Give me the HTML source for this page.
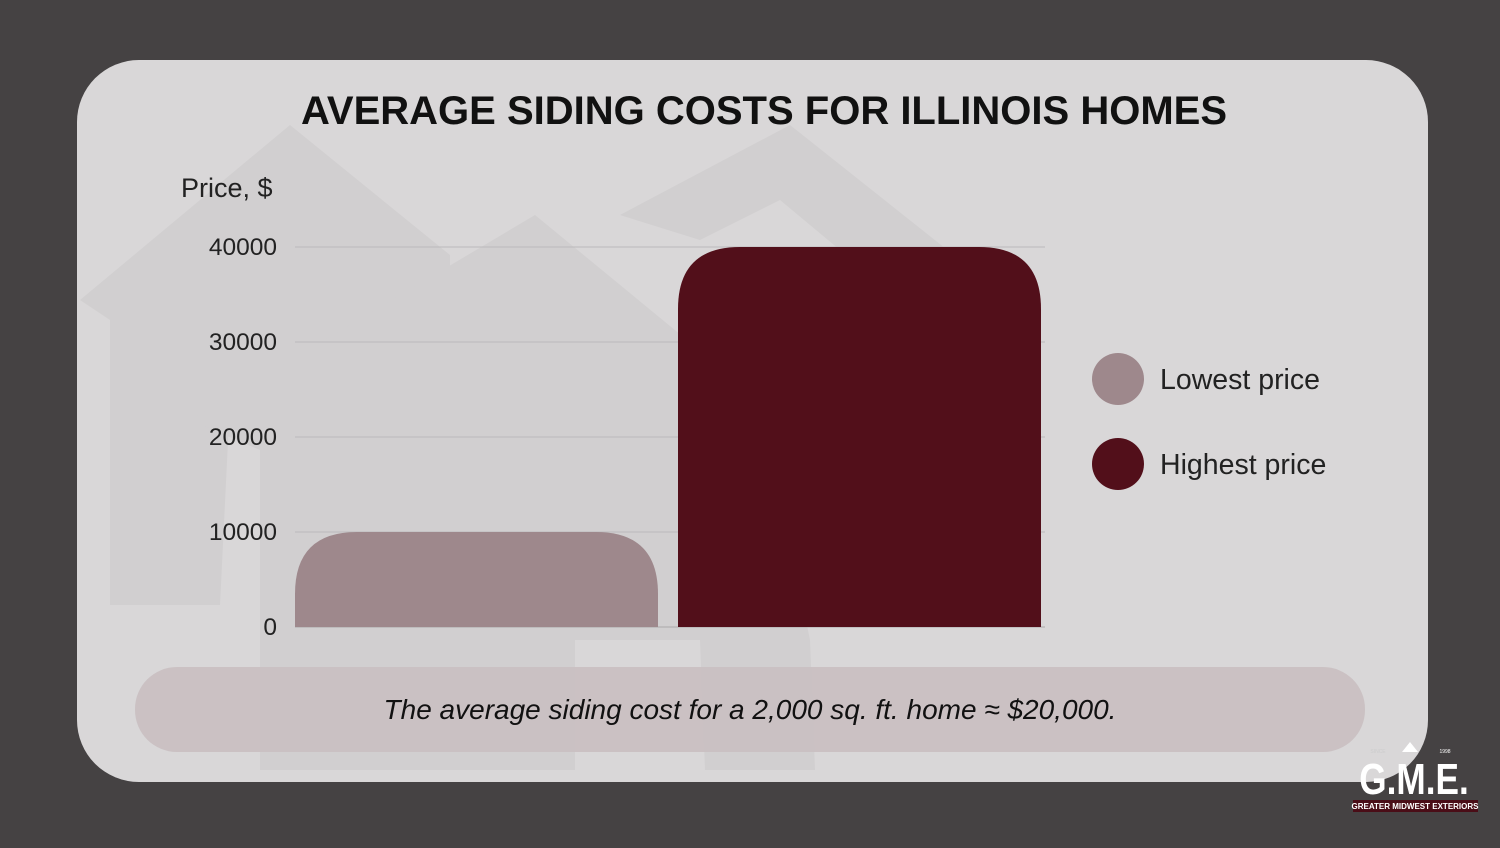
<!DOCTYPE html>
<html><head><meta charset="utf-8"><style>
body{margin:0;width:1500px;height:843px;background:#454243;overflow:hidden;font-family:"Liberation Sans",sans-serif}
</style></head><body>
<svg width="1500" height="843" viewBox="0 0 1500 843">
<rect x="77" y="60" width="1351" height="722" rx="62" fill="#d9d7d8"/>
<g fill="#d1cfd0">
<polygon points="80,300 290,125 450,255 450,400 230,400 220,605 110,605 110,320"/>
<polygon points="620,215 790,125 960,260 900,300 780,200 700,240"/>
<polygon points="190,420 535,215 760,400 810,640 815,770 705,770 700,640 575,640 575,770 260,770 260,450"/>
</g>
<text x="764" y="124" text-anchor="middle" font-size="40" font-weight="bold" fill="#111">AVERAGE SIDING COSTS FOR ILLINOIS HOMES</text>
<text x="181" y="197" font-size="27" fill="#222">Price, $</text>
<g id="grid"></g><g id="bars"></g>
<g>
<circle cx="1118" cy="379" r="26" fill="#9e888c"/>
<text x="1160" y="389" font-size="28.5" fill="#222">Lowest price</text>
<circle cx="1118" cy="464" r="26" fill="#520f1a"/>
<text x="1160" y="474" font-size="28.5" fill="#222">Highest price</text>
</g>
<rect x="135" y="667" width="1230" height="85" rx="42" fill="#c9bfc1" opacity="0.9"/>
<text x="750" y="719" text-anchor="middle" font-size="28" font-style="italic" fill="#111">The average siding cost for a 2,000 sq. ft. home ≈ $20,000.</text>
<g>
<text x="1414" y="794" text-anchor="middle" font-size="44" font-weight="bold" fill="#fff" transform="translate(1414,0) scale(0.8,1) translate(-1414,0)">G.M.E.</text>
<rect x="1353" y="800" width="125" height="12" fill="#4a0d17"/>
<text x="1415" y="809" text-anchor="middle" font-size="8" font-weight="bold" fill="#fff">GREATER MIDWEST EXTERIORS</text>
<text x="1378" y="753" text-anchor="middle" font-size="5" fill="#ccc">SINCE</text>
<text x="1445" y="753" text-anchor="middle" font-size="5" fill="#fff">1998</text>
<polygon points="1402,752 1410,742 1418,752" fill="#fff"/>
</g>
</svg>
<script>
const categories=["Lowest price","Highest price"];
const values=[10000,40000];
const colors=["#9e888c","#520f1a"];
const ticks=[0,10000,20000,30000,40000];
const NS="http://www.w3.org/2000/svg";
const y=v=>627-v/40000*380;
const x=i=>295+i*383;
const bw=363;
const grid=document.getElementById('grid');
ticks.forEach(t=>{
 const l=document.createElementNS(NS,'line');
 l.setAttribute('x1',295);l.setAttribute('x2',1045);l.setAttribute('y1',y(t));l.setAttribute('y2',y(t));
 l.setAttribute('stroke',t===0?'#aaa':'#bcbabb');l.setAttribute('stroke-width',1);
 
 
 grid.appendChild(l);
 const tx=document.createElementNS(NS,'text');
 tx.setAttribute('x',277);tx.setAttribute('y',y(t)+8);tx.setAttribute('text-anchor','end');
 tx.setAttribute('font-size','24.5');tx.setAttribute('fill','#222');tx.textContent=t;
 
 
 grid.appendChild(tx);
});
const bars=document.getElementById('bars');
values.forEach((v,i)=>{
 const x0=x(i),x1=x0+bw,y0=y(v),yb=y(0);
 const r=Math.min(62,(yb-y0));
 const p=document.createElementNS(NS,'path');
 p.setAttribute('d',`M${x0},${yb} L${x0},${y0+r} Q${x0},${y0} ${x0+r},${y0} L${x1-r},${y0} Q${x1},${y0} ${x1},${y0+r} L${x1},${yb} Z`);
 p.setAttribute('fill',colors[i]);
 
 
 bars.appendChild(p);
});
</script>
</body></html>
